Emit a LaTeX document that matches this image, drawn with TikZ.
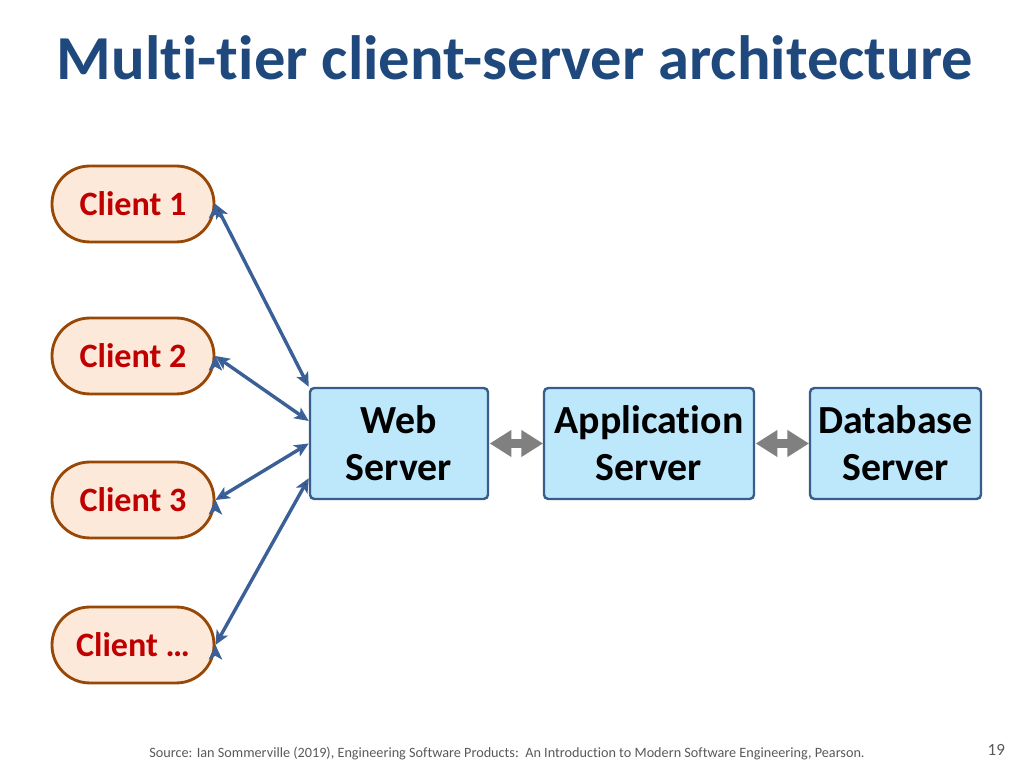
\documentclass[tikz,border=0pt]{standalone}
\usepackage{fontspec}
\setmainfont{Carlito}[Ligatures={NoCommon}]
\usepackage{tikz}
\usetikzlibrary{arrows.meta}

\definecolor{titleblue}{RGB}{31,73,125}
\definecolor{clientfill}{RGB}{253,233,217}
\definecolor{clientline}{RGB}{152,72,6}
\definecolor{clientred}{RGB}{192,0,0}
\definecolor{serverfill}{RGB}{189,231,250}
\definecolor{serverline}{RGB}{56,93,138}
\definecolor{linkblue}{RGB}{59,96,152}
\definecolor{tiergray}{RGB}{128,128,128}
\definecolor{notegray}{RGB}{89,89,89}

\tikzset{
  client/.style={draw=clientline, fill=clientfill, line width=2pt,
    rounded corners=26.5pt, minimum width=113.9pt, minimum height=53.4pt,
    text=clientred, font=\fontsize{24}{29}\selectfont\bfseries},
  server/.style={draw=serverline, fill=serverfill, line width=1.7pt,
    rounded corners=3pt, minimum height=78pt, align=center,
    font=\fontsize{28}{33}\selectfont\bfseries},
  link/.style={draw=linkblue, line width=2.4pt,
    {Stealth[length=10pt,width=9pt,inset=2.5pt]}-{Stealth[length=10pt,width=9pt,inset=2.5pt]}},
  tier/.style={draw=tiergray, line width=7pt, line cap=round, shorten <=0.5pt,
    {Triangle[length=15pt,width=19pt,line width=0pt,fill=tiergray]}-{Triangle[length=15pt,width=19pt,line width=0pt,fill=tiergray]}}
}

\begin{document}
\begin{tikzpicture}[x=0.703125pt, y=0.703125pt]
\useasboundingbox (0,0) rectangle (1024,768);

\draw (515,688) node[anchor=base, text=titleblue, font=\fontsize{44}{52}\selectfont\bfseries] (title) {Multi-tier client-server architecture};

  \draw (133,564) node[client] (c1) {Client 1};
  \draw (133,412) node[client] (c2) {Client 2};
  \draw (133,268) node[client] (c3) {Client 3};
  \draw (133,123) node[client] (c4) {Client \dots};

  \draw (399,324.5) node[server, minimum width=125.2pt] (web) {Web\\Server};
  \draw (649,324.5) node[server, minimum width=147.7pt] (app) {Application\\Server};
  \draw (895.5,324.5) node[server, minimum width=120.2pt] (db) {Database\\Server};

     \path[link] (c1.east) edge (web.north west);
     \path[link] (c2.east) edge (web.166);
     \path[link] (c3.east) edge (web.west);
     \path[link] (c4.east) edge (web.201);

     \path[tier] (web) edge (app);
     \path[tier] (app) edge (db);

\draw (507,10) node[anchor=base, text=notegray, font=\fontsize{10}{12}\selectfont] (source) {Source: Ian Sommerville (2019), Engineering Software Products:\ \ An Introduction to Modern Software Engineering, Pearson.};
\draw (1010,12) node[anchor=base east, text=notegray, font=\fontsize{12}{14}\selectfont] (page) {19};

\end{tikzpicture}
\end{document}
